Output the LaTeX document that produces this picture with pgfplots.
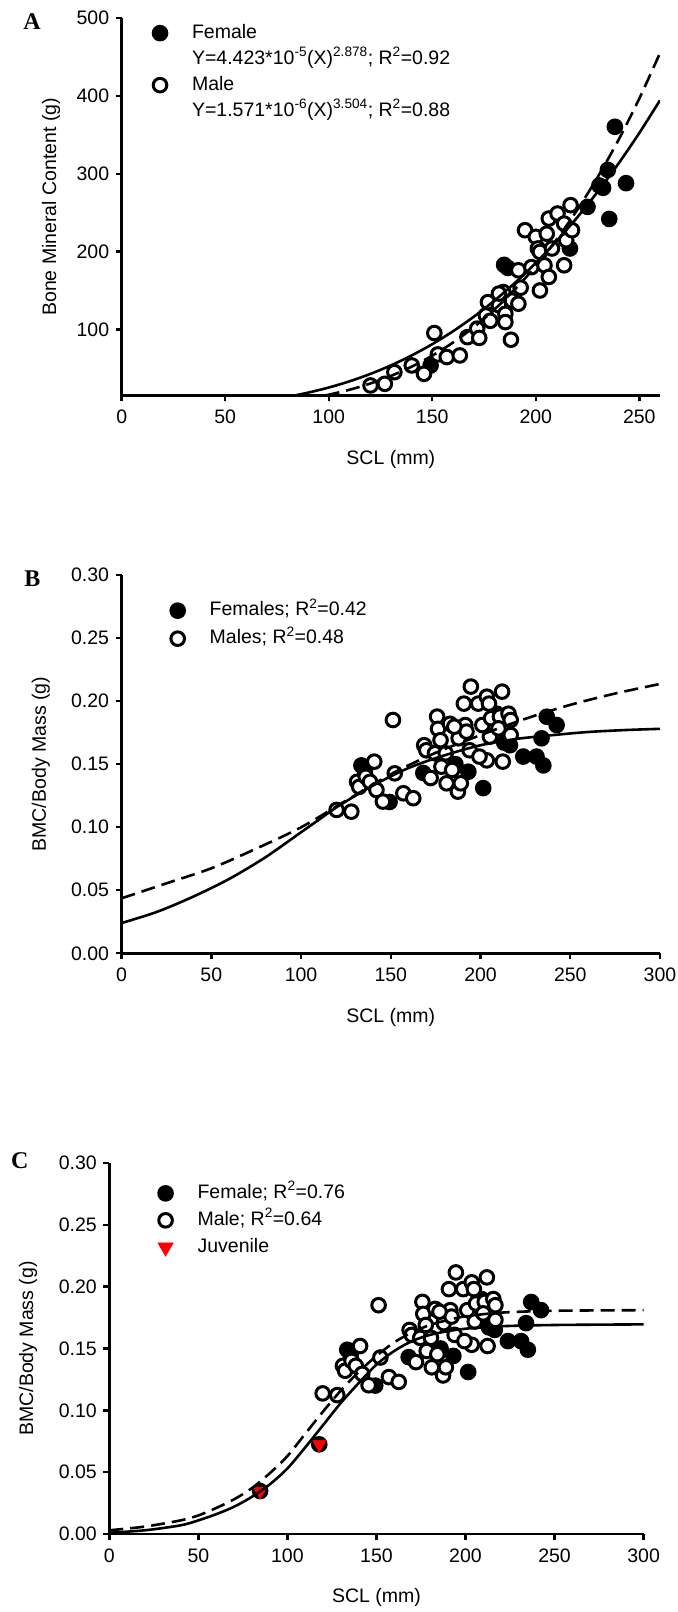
\documentclass[border=0pt]{standalone}
\usepackage{fontspec}
\setmainfont{Liberation Sans}
\newfontfamily\serifbold{Liberation Serif}
\usepackage{pgfplots}
\usepackage{pgfplotstable}
\pgfplotsset{compat=1.18}

\newcommand{\fs}{\fontsize{19.5bp}{22bp}\selectfont}

% ---------------- Panel A data ----------------
\pgfplotstableread{
x y
238.2 360.5
234.8 305
230.7 285
232.5 282
243.6 288
235.5 242
225.0 257.5
216.5 204
184.7 183
186.5 179
149.2 53.6
}\femA
\pgfplotstableread{
x y
151.0 95.3
120.2 27.9
127.1 30.0
131.7 45.0
140.1 53.6
146.0 42.9
152.7 67.8
157.0 64.4
163.3 66.5
167.0 90.0
171.7 100.9
172.7 89.0
175.9 118.0
178.0 111.0
176.9 135.0
182.2 131.0
184.3 148.0
185.3 120.0
185.3 109.4
188.0 86.7
188.5 137.0
191.6 133.0
191.6 176.0
192.7 153.6
194.8 227.5
197.9 180.0
200.0 219.0
201.0 204.0
202.0 199.6
202.0 150.0
204.2 182.4
205.3 223.0
206.3 242.5
206.3 167.4
207.8 204.0
210.5 249.0
213.7 236.0
214.7 214.6
213.7 182.4
216.8 259.7
217.5 227.5
182.2 146.0
}\maleA
\pgfplotstableread{
x y
84 15.27
90 18.62
100 25.22
110 33.18
120 42.61
130 53.65
140 66.42
150 81.0
160 97.55
170 116.15
180 136.9
190 159.96
200 185.4
210 213.4
220 243.9
230 277.3
240 313.4
250 352.5
260 394.6
}\fitFA
\pgfplotstableread{
x y
98.5 15.18
100 16.0
110 22.35
120 30.31
130 40.12
140 52.0
150 66.24
160 83.07
170 102.7
180 125.5
190 151.7
200 181.5
210 215.4
220 253.5
230 296.2
240 343.8
250 396.8
260 455.3
}\fitMA

% ---------------- Panels B and C data ----------------
\pgfplotstableread{
x y
133.6 0.149
135.5 0.145
149.3 0.120
168.1 0.143
193.2 0.144
201.5 0.131
186.0 0.150
216.4 0.165
213.2 0.167
209.0 0.190
223.8 0.156
231.2 0.156
234.0 0.1705
235.0 0.149
236.9 0.1876
242.4 0.181
}\femB
\pgfplotstableread{
x y
119.8 0.1137
128.0 0.1123
131.2 0.136
132.4 0.132
136.0 0.140
138.4 0.136
140.8 0.152
142.0 0.1295
145.6 0.1203
151.2 0.185
152.2 0.1427
157.0 0.1269
162.5 0.123
168.6 0.165
169.8 0.161
172.2 0.139
175.8 0.1877
174.6 0.1586
176.3 0.178
177.7 0.169
178.2 0.148
180.6 0.1586
181.1 0.1348
183.0 0.182
184.2 0.1454
187.4 0.1282
187.8 0.1705
189.0 0.1348
190.7 0.198
191.5 0.181
192.2 0.1758
193.9 0.161
194.6 0.2115
198.7 0.198
201.0 0.181
203.5 0.153
203.5 0.2035
204.7 0.198
205.2 0.1718
205.9 0.1864
210.8 0.1877
212.0 0.2075
212.4 0.152
215.6 0.190
216.8 0.1731
216.8 0.185
210.0 0.1784
199.4 0.156
185.4 0.1797
}\maleB
\pgfplotstableread{
x y
0 0.024
20 0.033
40 0.045
60 0.059
80 0.076
100 0.096
110 0.106
120 0.116
140 0.133
160 0.147
180 0.157
200 0.165
220 0.170
240 0.173
260 0.1755
280 0.177
300 0.178
}\fitFB
\pgfplotstableread{
x y
0 0.0436
25 0.0555
50 0.0674
75 0.083
100 0.0999
125 0.121
150 0.142
175 0.159
200 0.173
225 0.186
250 0.197
275 0.206
300 0.2136
}\fitMB
\pgfplotstableread{
x y
84.7 0.0347
117.9 0.0725
}\juv
\pgfplotstableread{
x y
0 0.001
20 0.003
40 0.007
50 0.011
60 0.016
70 0.022
80 0.030
90 0.040
100 0.053
110 0.070
120 0.088
130 0.106
140 0.122
150 0.137
160 0.148
170 0.156
180 0.161
190 0.164
200 0.166
220 0.168
250 0.169
300 0.1695
}\fitFC
\pgfplotstableread{
x y
0 0.003
20 0.006
40 0.011
50 0.015
60 0.021
70 0.028
80 0.037
90 0.049
100 0.063
110 0.081
120 0.099
130 0.116
140 0.131
150 0.144
160 0.155
170 0.163
180 0.169
190 0.173
200 0.176
220 0.179
250 0.1805
300 0.181
}\fitMC

\pgfplotsset{
  panel/.style={
    scale only axis,
    anchor=south west,
    axis lines=left,
    axis line style={line width=2.8bp,-},
    every tick/.style={black,line width=2.4bp},
    major tick length=6bp,
    tick align=outside,
    tick label style={font=\fs},
    label style={font=\fs},
    /pgf/number format/assume math mode=true,
    xticklabel style={yshift=-5bp},
    yticklabel style={xshift=-3bp},
    clip mode=individual,
    xlabel={SCL (mm)},
    x label style={at={(axis description cs:0.5,-0.17)},anchor=center},
    legend cell align=left,
    legend image code/.code={%
      \draw[mark repeat=2,mark phase=2,##1] plot coordinates {(0bp,0bp) (8bp,0bp) (16bp,0bp)};
      \path[draw=none,fill=none] (0bp,0bp) -- (40bp,0bp);},
    legend style={anchor=north west,draw=none,fill=none,inner sep=0pt,
      column sep=0pt,row sep=7bp,font=\fs,
      nodes={inner sep=0pt,text height=14bp,text depth=4bp}},
  },
  fem/.style={only marks,mark=*,mark size=6.8bp,mark options={fill=black,draw=black,line width=3bp}},
  mal/.style={only marks,mark=*,mark size=6.8bp,mark options={fill=white,draw=black,line width=3bp}},
  fitF/.style={black,line width=2.6bp,no marks,smooth},
  fitM/.style={black,line width=2.6bp,no marks,smooth,dash pattern=on 14bp off 7bp},
}

\begin{document}
\begin{tikzpicture}
\path[use as bounding box] (0bp,0bp) rectangle (678bp,1612bp);

% ---------------- Panel A ----------------
\begin{axis}[panel,
  at={(121.7bp,1216.5bp)}, width=538.3bp, height=377.2bp,
  xmin=0, xmax=260, ymin=15, ymax=500,
  xtick={0,50,...,250}, ytick={100,200,...,500},
  ylabel={Bone Mineral Content (g)},
  y label style={at={(axis description cs:-0.131,0.5)},anchor=center},
  legend style={at={(0.056,0.985)},row sep=8bp},
]
\addlegendimage{fem}
\addlegendentry{Female}
\addlegendimage{empty legend}
\addlegendentry{Y=4.423*10\textsuperscript{-5}(X)\textsuperscript{2.878}; R\textsuperscript{2}=0.92}
\addlegendimage{mal}
\addlegendentry{Male}
\addlegendimage{empty legend}
\addlegendentry{Y=1.571*10\textsuperscript{-6}(X)\textsuperscript{3.504}; R\textsuperscript{2}=0.88}
\addplot[fem,forget plot] table {\femA};
\addplot[mal,forget plot] table {\maleA};
\addplot[fitF,forget plot] table {\fitFA};
\addplot[fitM,forget plot] table {\fitMA};
\end{axis}

% ---------------- Panel B ----------------
\begin{axis}[panel,
  at={(121.6bp,658.7bp)}, width=538.4bp, height=378.3bp,
  xmin=0, xmax=300, ymin=0, ymax=0.30,
  xtick={0,50,...,300}, ytick={0,0.05,...,0.31},
  yticklabel style={/pgf/number format/.cd,fixed,fixed zerofill,precision=2},
  ylabel={BMC/Body Mass (g)},
  y label style={at={(axis description cs:-0.150,0.5)},anchor=center},
  legend style={at={(0.089,0.93)},row sep=10bp},
]
\addlegendimage{fem}
\addlegendentry{Females; R\textsuperscript{2}=0.42}
\addlegendimage{mal}
\addlegendentry{Males; R\textsuperscript{2}=0.48}
\addplot[fem,forget plot] table {\femB};
\addplot[mal,forget plot] table {\maleB};
\addplot[fitF,forget plot] table {\fitFB};
\addplot[fitM,forget plot] table {\fitMB};
\end{axis}

% ---------------- Panel C ----------------
\begin{axis}[panel,
  at={(109.3bp,78bp)}, width=534.3bp, height=371bp,
  xmin=0, xmax=300, ymin=0, ymax=0.30,
  xtick={0,50,...,300}, ytick={0,0.05,...,0.31},
  yticklabel style={/pgf/number format/.cd,fixed,fixed zerofill,precision=2},
  ylabel={BMC/Body Mass (g)},
  y label style={at={(axis description cs:-0.152,0.5)},anchor=center},
  legend style={at={(0.09,0.943)},row sep=9bp},
]
\addlegendimage{fem}
\addlegendentry{Female; R\textsuperscript{2}=0.76}
\addlegendimage{mal}
\addlegendentry{Male; R\textsuperscript{2}=0.64}
\addlegendimage{only marks,mark=triangle*,mark size=9bp,mark options={fill=red,draw=red,rotate=180}}
\addlegendentry{Juvenile}
\addplot[fem,forget plot] table {\femB};
\addplot[fem,forget plot] table {\juv};
\addplot[mal,forget plot] table {\maleB};
\addplot[only marks,mark=triangle*,mark size=8bp,mark options={fill=red,draw=red,rotate=180},forget plot] table {\juv};
\addplot[fitF,forget plot] table {\fitFC};
\addplot[fitM,forget plot] table {\fitMC};
\end{axis}

\node[font=\serifbold\bfseries\fontsize{24bp}{26bp}\selectfont] at (32bp,1590bp) {A};
\node[font=\serifbold\bfseries\fontsize{24bp}{26bp}\selectfont] at (32.5bp,1033bp) {B};
\node[font=\serifbold\bfseries\fontsize{24bp}{26bp}\selectfont] at (19.7bp,451bp) {C};
\end{tikzpicture}
\end{document}
